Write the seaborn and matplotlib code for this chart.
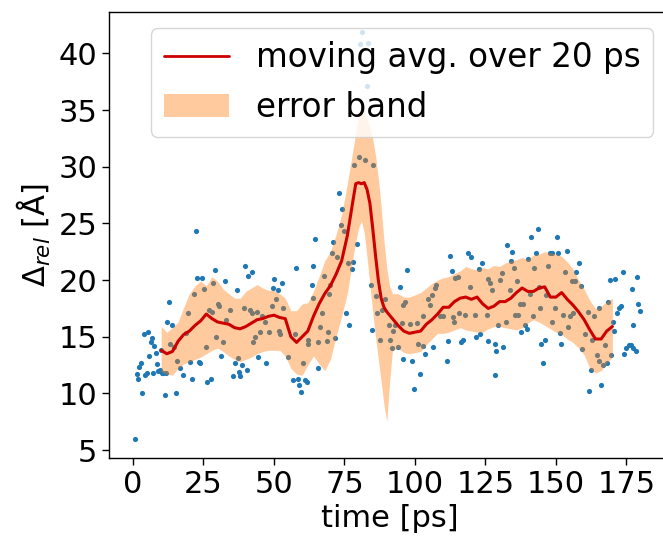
import matplotlib
matplotlib.use("Agg")
import matplotlib.pyplot as plt
from matplotlib.lines import Line2D
from matplotlib.patches import Patch
import seaborn as sns

# Raw samples of the relative distance along the trajectory
sample_time = [
    0.8, 1.3, 1.7, 2.3, 2.8, 3.3, 3.9, 4.3, 4.9, 5.2, 5.7, 6.4, 6.9, 7.2, 7.6, 8.2, 8.6, 9.0, 9.5, 9.9,
    10.2, 10.8, 11.2, 11.8, 12.2, 12.8, 13.1, 13.7, 14.7, 15.3, 15.7, 16.7, 17.8, 18.8, 19.6,
    20.2, 20.8, 21.6, 22.2, 22.8, 23.4, 23.9, 24.6, 25.3, 25.9, 26.4, 27.0, 27.7, 27.9, 28.5, 29.2, 29.6,
    30.0, 30.6, 31.2, 31.8, 32.6, 32.9, 34.4, 35.3, 36.2, 36.8, 37.4, 37.7, 37.9, 38.5, 39.4, 39.7,
    40.3, 40.9, 41.5, 42.1, 42.3, 42.7, 43.3, 43.9, 44.4, 45.0, 45.6, 46.8, 47.2, 48.3, 49.2, 49.5,
    50.1, 50.7, 51.3, 51.8, 52.1, 52.7, 53.3, 55.1, 56.6, 57.5, 57.7, 58.4, 59.0, 59.6,
    60.2, 61.0, 61.6, 61.9, 62.2, 63.4, 63.9, 64.0, 64.5, 65.6, 65.7, 66.3, 66.9, 67.7, 68.7, 69.3, 69.5, 69.9,
    70.5, 71.0, 71.6, 72.2, 73.2, 73.6, 74.0, 75.0, 75.5, 76.4, 76.7, 77.5, 78.1, 78.5, 79.3,
    80.3, 80.5, 81.1, 82.3, 82.9, 83.4, 84.4, 84.6, 85.0, 86.2, 86.4, 87.6, 88.2, 89.4,
    90.9, 91.1, 91.7, 92.3, 92.9, 94.1, 94.7, 95.3, 95.6, 95.9, 96.4, 97.2, 98.2, 98.8, 99.8,
    100.6, 101.2, 101.8, 102.7, 103.0, 103.6, 104.7, 105.3, 105.9, 106.5, 107.1, 107.6, 108.9, 109.8,
    111.2, 111.8, 112.4, 113.0, 113.6, 114.0, 114.2, 115.4, 115.6, 116.2, 116.9, 117.7, 118.9, 119.5, 119.7,
    121.3, 121.5, 122.6, 123.0, 123.6, 125.4, 125.8, 126.0, 126.6, 127.4, 128.2, 128.4, 128.6, 129.5,
    130.1, 130.7, 131.3, 132.1, 132.6, 133.7, 134.0, 134.5, 135.2, 135.4, 136.1, 136.4, 137.2, 137.6,
    138.4, 139.0, 139.6, 140.2, 140.8, 141.1, 141.9, 142.3, 142.8, 143.5, 143.9, 144.3, 144.7, 145.5,
    146.1, 146.3, 147.0, 147.9, 148.5, 148.7, 149.6, 150.2, 150.6, 151.4, 151.7, 152.6, 153.2, 153.8,
    154.1, 155.0, 155.6, 156.1, 156.7, 157.1, 158.1, 158.8, 159.1, 160.3, 161.2, 161.8, 162.3, 162.6,
    163.6, 164.4, 165.2, 165.4, 165.9, 166.8, 167.4, 168.0, 168.3, 169.1, 169.5, 170.3, 170.7, 170.9,
    171.5, 172.3, 173.0, 173.9, 174.1, 174.8, 175.9, 176.5, 176.8, 177.3, 177.4, 178.2, 178.6, 179.2, 179.8,
]
sample_delta = [
    6.0, 11.7, 11.3, 12.3, 12.7, 10.0, 15.2, 11.6, 11.8, 15.4, 13.3, 14.5, 14.9, 11.8, 14.2, 13.6, 12.6, 12.0, 12.1, 13.8,
    11.8, 11.8, 9.9, 11.8, 16.3, 18.1, 14.4, 16.0, 14.1, 10.0, 12.9, 12.2, 11.6, 15.3, 17.1,
    12.8, 11.3, 18.8, 24.3, 20.2, 12.8, 12.7, 20.2, 19.2, 14.1, 11.0, 17.4, 11.3, 17.2, 19.7, 20.9, 15.0,
    17.9, 17.7, 13.3, 14.5, 19.9, 16.5, 17.4, 11.5, 12.7, 19.1, 13.1, 11.9, 11.5, 12.5, 17.5, 21.2,
    12.1, 20.4, 17.4, 20.7, 17.1, 14.5, 15.0, 17.2, 13.2, 15.4, 16.8, 16.3, 12.7, 15.4, 17.7, 19.3,
    20.1, 18.3, 19.1, 15.5, 15.2, 19.7, 17.5, 13.2, 11.2, 15.2, 21.1, 11.3, 10.7, 10.1,
    12.7, 11.2, 11.0, 14.7, 14.4, 19.6, 21.2, 18.4, 23.6, 14.5, 12.2, 15.9, 17.1, 20.4, 14.6, 15.4, 18.8, 19.6,
    22.4, 23.4, 14.9, 22.0, 27.7, 24.9, 26.3, 24.3, 17.1, 21.5, 16.0, 21.0, 21.6, 30.2, 23.2,
    30.9, 40.8, 41.9, 30.6, 37.1, 40.9, 19.6, 15.6, 30.2, 18.6, 17.1, 14.7, 17.4, 18.3,
    16.0, 14.7, 14.0, 15.5, 16.0, 14.1, 19.4, 16.2, 13.0, 17.8, 18.1, 20.9, 16.1, 12.9, 10.4,
    16.2, 14.4, 11.7, 14.2, 16.8, 13.5, 18.3, 17.8, 18.7, 14.1, 19.3, 19.6, 16.8, 16.8,
    12.9, 14.6, 22.1, 20.8, 16.7, 16.3, 20.2, 20.3, 17.1, 14.5, 14.7, 16.9, 22.4, 19.4, 22.0,
    16.9, 15.0, 21.0, 15.2, 21.5, 16.9, 14.6, 20.1, 19.7, 19.1, 11.6, 14.4, 13.7, 16.0,
    20.0, 20.6, 14.1, 16.3, 23.1, 19.1, 21.7, 22.5, 21.1, 16.9, 19.9, 16.9, 17.9, 15.4,
    17.9, 16.0, 15.7, 21.9, 18.8, 23.8, 16.8, 21.1, 22.4, 24.5, 19.4, 17.5, 14.4, 12.7,
    14.7, 18.7, 21.2, 22.4, 22.4, 16.3, 17.5, 23.8, 22.4, 15.3, 14.4, 16.9, 20.7, 22.6,
    15.9, 16.8, 19.9, 17.1, 19.9, 20.7, 21.5, 19.5, 13.9, 15.2, 17.2, 10.2, 12.1, 14.7,
    16.8, 13.4, 12.9, 17.5, 10.7, 12.5, 14.3, 12.7, 18.1, 20.0, 13.4, 16.3, 15.5, 20.1,
    17.1, 17.5, 17.7, 20.7, 13.5, 14.0, 14.3, 14.3, 19.2, 14.0, 16.0, 13.7, 20.3, 17.9, 17.3,
]

# 20 ps moving average and its error band
avg_time = [
    10, 12, 14, 16, 18, 20, 22, 24, 26, 28, 30, 32, 34, 36, 38, 40, 42, 44, 46, 48,
    50, 52, 54, 56, 58, 60, 62, 64, 66, 68, 70, 72, 74, 76, 78, 79, 80, 81, 82, 83,
    84, 85, 86, 87, 88, 89, 90, 91, 92, 94, 96, 98, 100, 102, 104, 106, 108, 110, 112, 114,
    116, 118, 120, 122, 124, 126, 128, 130, 132, 134, 136, 138, 140, 142, 144, 146, 148, 150, 152, 154,
    156, 158, 160, 162, 164, 166, 168, 170,
]
avg_delta = [
    13.8, 13.5, 13.7, 14.6, 15.2, 15.5, 16.0, 16.4, 17.0, 16.6, 16.3, 16.2, 16.1, 15.8, 15.7, 15.9, 16.2, 16.5, 16.6, 16.8,
    16.9, 16.7, 16.6, 15.0, 14.5, 15.0, 15.5, 16.8, 17.9, 18.8, 19.5, 20.5, 21.7, 23.9, 27.0, 28.5, 28.6, 28.5, 28.6, 28.0,
    26.8, 24.6, 22.2, 20.0, 18.4, 17.6, 17.2, 16.9, 16.6, 16.0, 15.5, 15.3, 15.4, 15.5, 16.1, 16.5, 17.0, 17.6, 17.6, 18.1,
    18.4, 18.5, 18.3, 18.5, 17.9, 17.5, 17.7, 18.1, 18.1, 18.4, 18.9, 19.3, 19.0, 19.0, 19.3, 19.4, 18.5, 18.5, 18.9, 18.3,
    17.8, 17.2, 16.5, 15.6, 14.8, 14.8, 15.5, 15.9,
]
band_low = [
    11.9, 11.7, 11.6, 12.2, 12.6, 12.8, 13.0, 13.2, 13.5, 13.8, 14.0, 13.7, 13.3, 13.0, 12.8, 13.0, 13.2, 13.5, 13.7, 13.8,
    13.8, 13.8, 13.3, 12.2, 11.7, 11.6, 12.5, 13.3, 12.6, 12.0, 13.0, 15.0, 16.8, 18.8, 22.0, 23.4, 24.6, 25.2, 24.2, 22.0,
    19.6, 17.2, 15.0, 13.0, 11.0, 9.0, 7.5, 11.0, 13.8, 14.0, 13.6, 13.5, 13.6, 13.7, 14.3, 14.8, 15.3, 15.3, 15.4, 15.6,
    15.8, 15.6, 15.5, 15.4, 15.4, 15.7, 15.9, 15.9, 15.8, 15.7, 15.6, 15.8, 16.2, 16.5, 16.3, 16.0, 15.7, 15.4, 15.2, 14.8,
    14.5, 14.0, 13.4, 12.2, 11.8, 12.0, 12.7, 13.2,
]
band_high = [
    15.9, 15.4, 15.8, 16.3, 17.6, 18.8, 19.5, 19.9, 19.5, 20.3, 19.9, 19.2, 18.8, 18.4, 18.4, 19.0, 19.3, 19.6, 19.3, 19.1,
    19.1, 18.8, 18.4, 17.3, 17.3, 17.9, 18.0, 19.0, 20.3, 21.7, 22.5, 24.0, 25.8, 28.5, 31.5, 33.0, 34.5, 35.5, 35.0, 34.2,
    33.5, 32.5, 31.0, 29.0, 26.5, 23.5, 21.0, 19.5, 18.8, 18.8, 18.5, 18.5, 18.7, 18.9, 19.3, 19.7, 20.0, 20.2, 20.3, 20.6,
    20.8, 21.2, 21.0, 20.9, 21.1, 21.0, 21.3, 21.2, 21.5, 21.7, 21.8, 22.0, 21.8, 22.2, 22.3, 22.5, 22.4, 22.3, 22.1, 21.6,
    21.0, 20.0, 19.2, 18.2, 17.5, 17.7, 18.1, 18.4,
]

x_ticks = [0, 25, 50, 75, 100, 125, 150, 175]
y_ticks = [5, 10, 15, 20, 25, 30, 35, 40]

sns.set_style("ticks")
plt.rcParams.update({
    "font.family": ["DejaVu Sans"],
    "text.color": "black",
    "axes.labelcolor": "black",
    "axes.edgecolor": "black",
    "axes.linewidth": 1.0,
    "xtick.color": "black",
    "ytick.color": "black",
    "xtick.major.size": 5,
    "ytick.major.size": 5,
    "xtick.major.width": 1.0,
    "ytick.major.width": 1.0,
})

fig = plt.figure(figsize=(6.63, 5.4), dpi=100)
ax = fig.add_axes([0.1644, 0.1519, 0.8456, 0.8259])

sns.scatterplot(x=sample_time, y=sample_delta, s=14, color="#1f77b4",
                linewidth=0, ax=ax, zorder=1)
ax.fill_between(avg_time, band_low, band_high, color="#ff7f0e", alpha=0.4,
                linewidth=0, zorder=2)
sns.lineplot(x=avg_time, y=avg_delta, color="#cc0000", linewidth=2.2,
             ax=ax, zorder=3)

ax.set_xlim(-8.5, 190.3)
ax.set_ylim(4.3, 43.66)
ax.set_xticks(x_ticks)
ax.set_yticks(y_ticks)
ax.tick_params(labelsize=22)
ax.set_xlabel("time [ps]", fontsize=22)
ax.set_ylabel(r"$\mathit{\Delta}_{rel}$ [Å]", fontsize=22)

handles = [
    Line2D([], [], color="#cc0000", linewidth=2),
    Patch(facecolor="#ff7f0e", alpha=0.4, linewidth=0),
]
ax.legend(handles, ["moving avg. over 20 ps", "error band"],
          loc="upper right", fontsize=23.5)

fig.savefig("out.png", dpi=100)
